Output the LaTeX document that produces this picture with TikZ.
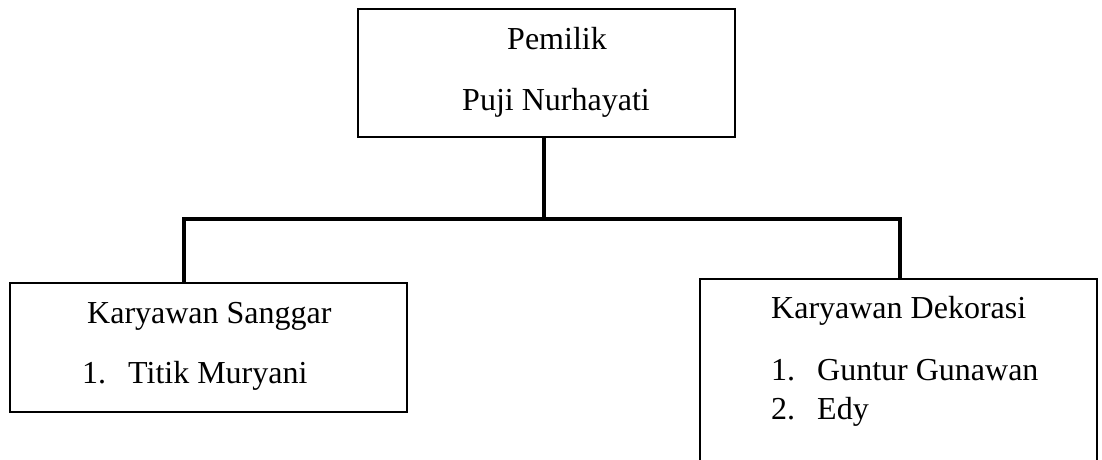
\documentclass[tikz,border=0pt]{standalone}
\usepackage{fontspec}
\setmainfont{Liberation Serif}
\usetikzlibrary{calc}

\tikzset{
  box/.style={draw,line width=2pt,inner sep=0pt},
  txt/.style={inner sep=0pt,font=\fontsize{32}{38}\selectfont},
  link/.style={line width=4pt}
}

\begin{document}
\begin{tikzpicture}[x=1pt,y=-1pt]
\useasboundingbox (0,0) rectangle (1102,460);
\clip (0,0) rectangle (1102,460);

\node[box,minimum width=377pt,minimum height=128pt] (owner) at (546.5,73) {};
\node[box,minimum width=397pt,minimum height=129pt] (sanggar) at (208.5,347.5) {};
\node[box,minimum width=397pt,minimum height=210pt] (dekorasi) at (898.5,384) {};

\node[txt,anchor=base] (t1) at (557,50) {Pemilik};
\node[txt,anchor=base] (t2) at (556,110) {Puji Nurhayati};

\node[txt,anchor=base west] (s1) at (87,323) {Karyawan Sanggar};
\node[txt,anchor=base west] (s2) at (82,383) {1.};
\node[txt,anchor=base west] (s3) at (128,383) {Titik Muryani};

\node[txt,anchor=base west] (d1) at (771,318) {Karyawan Dekorasi};
\node[txt,anchor=base west] (d2) at (771,380) {1.};
\node[txt,anchor=base west] (d3) at (817,380) {Guntur Gunawan};
\node[txt,anchor=base west] (d4) at (771,419) {2.};
\node[txt,anchor=base west] (d5) at (817,419) {Edy};

\coordinate (hub) at (544,219);
\coordinate (jl) at (184,219);
\coordinate (jr) at (900,219);

\draw[link] (hub |- owner.south) -- (hub);
\draw[link,line cap=rect] (jl) -- (jr);
\draw[link] (jl) -- (jl |- sanggar.north);
\draw[link] (jr) -- (jr |- dekorasi.north);

\end{tikzpicture}
\end{document}
